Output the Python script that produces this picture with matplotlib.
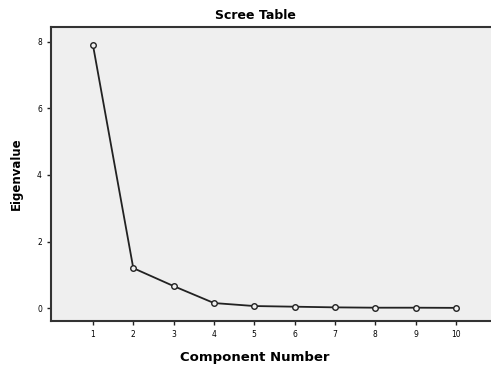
import matplotlib
matplotlib.use("Agg")
import matplotlib.pyplot as plt

components = [1, 2, 3, 4, 5, 6, 7, 8, 9, 10]
eigenvalues = [7.91, 1.20, 0.66, 0.15, 0.06, 0.04, 0.02, 0.01, 0.01, 0.005]
y_ticks = [0, 2, 4, 6, 8]

fig = plt.figure(figsize=(4.91, 3.67), dpi=100)
ax = fig.add_axes([51 / 491, 46 / 367, 440 / 491, 294 / 367])
ax.set_facecolor("#efefef")

ax.plot(components, eigenvalues, color="#222222", linewidth=1.3,
        marker="o", markersize=4, markerfacecolor="#efefef",
        markeredgecolor="#222222", markeredgewidth=1.0)

ax.set_xlim(-0.04, 10.87)
ax.set_ylim(-0.39, 8.45)
ax.set_xticks(components)
ax.set_yticks(y_ticks)
ax.tick_params(labelsize=5.5, length=3, width=1, color="#222222")

for s in ["left", "top", "bottom"]:
    ax.spines[s].set_linewidth(1.5)
    ax.spines[s].set_color("#333333")
ax.spines["right"].set_visible(False)

# title and x label sit a bit left of the visible axes centre
ax.set_title("Scree Table", fontsize=9, fontweight="bold", pad=6, x=0.464)
ax.set_xlabel("Component Number", fontsize=9.5, fontweight="bold", va="center")
ax.xaxis.set_label_coords(0.464, -0.125)
ax.set_ylabel("Eigenvalue", fontsize=8.5, fontweight="bold", labelpad=10)

fig.savefig("out.png", dpi=100)
